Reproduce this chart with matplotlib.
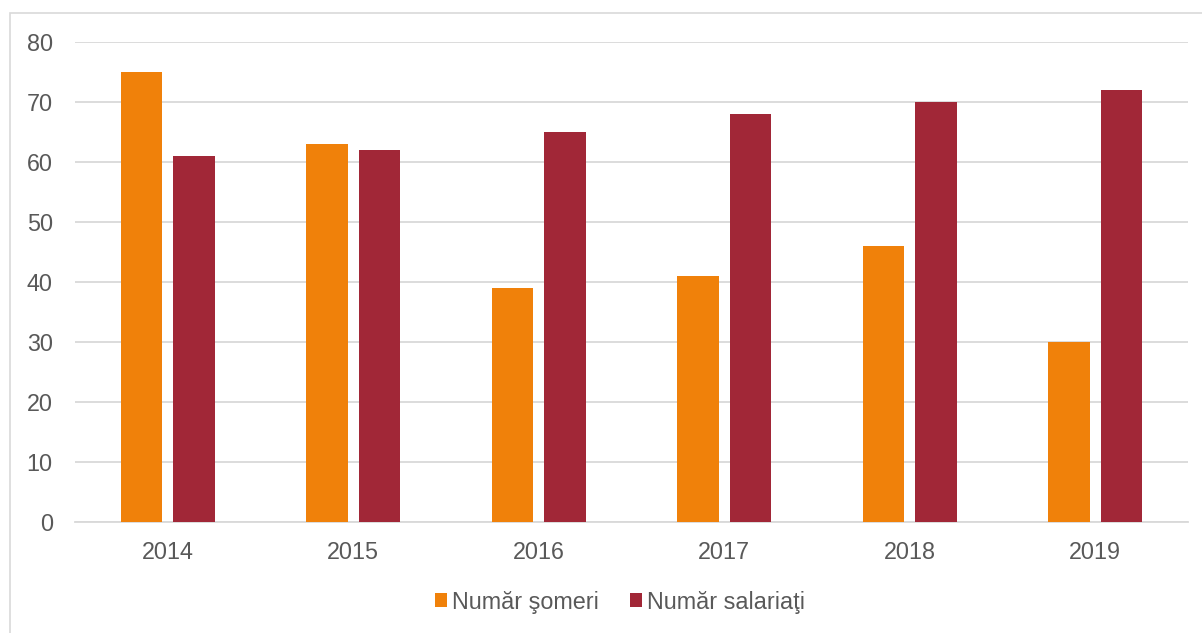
import matplotlib.pyplot as plt
import numpy as np
from matplotlib.patches import Rectangle

plt.rcParams['font.family'] = ['Liberation Sans', 'DejaVu Sans']

years = ['2014', '2015', '2016', '2017', '2018', '2019']
someri = [75, 63, 39, 41, 46, 30]
salariati = [61, 62, 65, 68, 70, 72]

W, H = 1202, 633
fig = plt.figure(figsize=(W / 100, H / 100), dpi=100)

# outer chart border (runs off the right and bottom edge)
fig.patches.append(Rectangle((10 / W, -0.05), 1.1, (H - 13) / H + 0.05,
                             transform=fig.transFigure, fill=False,
                             edgecolor='#D9D9D9', linewidth=1.2))

ax = fig.add_axes([75 / W, 1 - 522 / H, (1188 - 75) / W, (522 - 42) / H])

x = np.arange(len(years))
bw = 0.224
off = 0.1415
ax.bar(x - off, someri, bw, color='#F0810A', label='Număr şomeri', zorder=3)
ax.bar(x + off, salariati, bw, color='#A12737', label='Număr salariaţi', zorder=3)

ax.set_xlim(-0.5, len(years) - 0.5)
ax.set_ylim(0, 80)
ax.set_yticks(range(0, 81, 10))
ax.set_xticks(x)
ax.set_xticklabels(years)

ax.grid(axis='y', color='#D9D9D9', linewidth=1.3, zorder=0)
for s in ['top', 'right', 'left']:
    ax.spines[s].set_visible(False)
ax.spines['bottom'].set_color('#D9D9D9')
ax.spines['bottom'].set_linewidth(1.3)

ax.tick_params(axis='y', length=0, pad=16, labelsize=16.8, labelcolor='#595959')
ax.tick_params(axis='x', length=0, pad=14, labelsize=16.8, labelcolor='#595959')

leg = fig.legend(loc='center', bbox_to_anchor=(620 / W, 1 - 602 / H), ncol=2,
                 frameon=False, fontsize=16.8, handlelength=0.53, handleheight=0.53,
                 handletextpad=0.21, columnspacing=1.3)
for t in leg.get_texts():
    t.set_color('#595959')

fig.savefig('out.png', dpi=100)
